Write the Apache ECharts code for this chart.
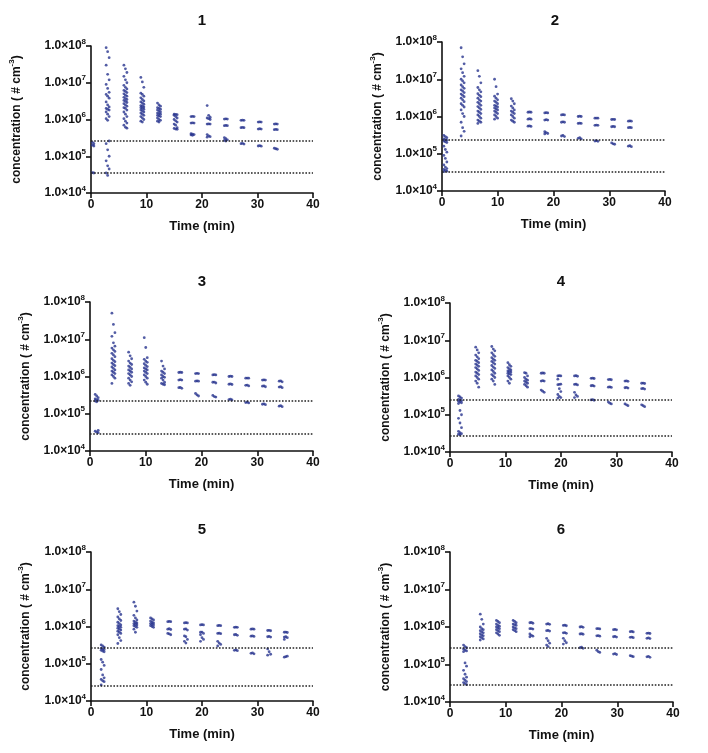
<!DOCTYPE html>
<html><head><meta charset="utf-8">
<script src="https://cdn.jsdelivr.net/npm/echarts@6/dist/echarts.min.js"></script>
<style>html,body{margin:0;padding:0;background:#fff}#c{width:708px;height:753px}</style>
</head><body><div id="c"></div>
<script>
// ---------- DATA ----------
const TITLES = ['1','2','3','4','5','6'];
const X_TICKS = [0, 10, 20, 30, 40];
const Y_TICKS = [1e4, 1e5, 1e6, 1e7, 1e8];

const P1_T = [0.25, 3.0, 6.2, 9.25, 12.25, 15.25, 18.3, 21.2, 24.3, 27.3, 30.4, 33.3];
const P1_V = [
  [2.7e5,2.4e5,2.2e5,2.1e5,2.0e5,1.9e5,3.7e4,3.6e4,3.5e4,3.4e4],
  [9e7,7e7,4.8e7,3e7,1.7e7,1.2e7,9e6,7e6,5.5e6,4.8e6,4.3e6,3.8e6,3e6,2.5e6,2.2e6,2e6,1.9e6,1.8e6,1.6e6,1.4e6,1.2e6,1.05e6,9.5e5,2.6e5,2.2e5,1.5e5,1e5,7.5e4,5.5e4,4.5e4,3.5e4,3e4],
  [3e7,2.4e7,1.9e7,1.5e7,1.2e7,1e7,8.5e6,7.5e6,6.8e6,6.2e6,5.8e6,5.4e6,5e6,4.6e6,4.3e6,4e6,3.7e6,3.5e6,3.3e6,3.1e6,2.9e6,2.7e6,2.5e6,2.3e6,2.1e6,2e6,1.8e6,1.6e6,1.4e6,1.2e6,1.05e6,9e5,8e5,7e5,6.2e5,5.8e5],
  [1.4e7,1.05e7,7.5e6,5.2e6,4.8e6,4.3e6,3.9e6,3.5e6,3.2e6,3e6,2.8e6,2.6e6,2.4e6,2.3e6,2.2e6,2.1e6,2e6,1.9e6,1.8e6,1.7e6,1.6e6,1.5e6,1.4e6,1.3e6,1.2e6,1.1e6,1e6,9e5,8.5e5],
  [2.8e6,2.5e6,2.3e6,2.1e6,2e6,1.9e6,1.8e6,1.7e6,1.6e6,1.5e6,1.45e6,1.4e6,1.3e6,1.25e6,1.2e6,1.1e6,1e6,9.5e5,9e5,8.5e5],
  [1.4e6,1.38e6,1.35e6,1.3e6,1.2e6,1.1e6,1e6,9.2e5,8.5e5,7.5e5,7e5,6e5,5.7e5,5.5e5,5.4e5],
  [1.2e6,1.21e6,1.2e6,8e5,8.1e5,8e5,4.1e5,4e5,3.9e5,3.8e5,3.7e5],
  [2.4e6,1.3e6,1.15e6,1.1e6,1.05e6,1e6,7.5e5,7.6e5,7.5e5,3.9e5,3.6e5,3.4e5,3.3e5],
  [1.03e6,1.04e6,1.03e6,6.8e5,6.9e5,6.8e5,3.2e5,3e5,2.8e5,2.7e5,2.6e5],
  [9.5e5,9.6e5,9.5e5,6e5,6.1e5,6e5,2.2e5,2.25e5,2.15e5],
  [8.5e5,8.6e5,8.5e5,5.5e5,5.6e5,5.5e5,1.9e5,1.95e5,1.88e5],
  [7.5e5,7.6e5,7.5e5,5.3e5,5.4e5,5.3e5,1.65e5,1.6e5,1.55e5]
];
const P1_LIMITS = [2.6e5, 3.5e4];

const P2_T = [0.6, 3.7, 6.7, 9.7, 12.7, 15.7, 18.7, 21.7, 24.7, 27.7, 30.7, 33.7];
const P2_V = [
  [3.1e5,2.9e5,2.7e5,2.5e5,2.4e5,2.3e5,2.2e5,2.1e5,2e5,1.6e5,1.3e5,1.1e5,9e4,7.5e4,6e4,5e4,4.4e4,4e4,3.8e4,3.6e4,3.4e4,3.3e4],
  [7e7,4e7,2.6e7,1.9e7,1.5e7,1.2e7,1e7,9e6,8e6,7e6,6.3e6,5.7e6,5.2e6,4.8e6,4.4e6,4e6,3.7e6,3.4e6,3.1e6,2.8e6,2.5e6,2.2e6,2e6,1.8e6,1.5e6,1.2e6,1e6,7e5,5e5,4e5,3e5],
  [1.7e7,1.2e7,8e6,6e6,5.2e6,4.6e6,4.1e6,3.7e6,3.4e6,3.1e6,2.8e6,2.6e6,2.4e6,2.2e6,2e6,1.85e6,1.7e6,1.55e6,1.4e6,1.3e6,1.2e6,1.1e6,1e6,9e5,8e5,7.5e5,7e5,6.5e5],
  [1e7,6.3e6,4e6,3.5e6,3.1e6,2.8e6,2.6e6,2.4e6,2.2e6,2e6,1.9e6,1.8e6,1.7e6,1.6e6,1.5e6,1.4e6,1.3e6,1.2e6,1.1e6,1e6,9e5,8.5e5],
  [3e6,2.6e6,2.2e6,1.9e6,1.7e6,1.5e6,1.4e6,1.3e6,1.2e6,1.1e6,1e6,9e5,8e5,7.5e5,7e5],
  [1.3e6,1.32e6,1.3e6,8.5e5,8.7e5,8.5e5,5.5e5,5.6e5,5.4e5],
  [1.25e6,1.27e6,1.25e6,8e5,8.2e5,8e5,3.9e5,3.7e5,3.5e5,3.4e5],
  [1.1e6,1.12e6,1.1e6,7e5,7.2e5,7e5,3e5,3.1e5,2.9e5],
  [1e6,1.02e6,1e6,6.5e5,6.6e5,6.5e5,2.6e5,2.7e5,2.5e5],
  [9e5,9.1e5,9e5,5.8e5,5.9e5,5.8e5,2.2e5,2.25e5,2.15e5],
  [8.3e5,8.4e5,8.3e5,5.3e5,5.4e5,5.3e5,1.95e5,1.85e5,1.8e5],
  [7.5e5,7.6e5,7.5e5,5e5,5.1e5,5e5,1.6e5,1.65e5,1.55e5]
];
const P2_LIMITS = [2.4e5, 3.2e4];

const P3_T = [1.2, 4.2, 7.2, 10.0, 13.1, 16.2, 19.2, 22.3, 25.2, 28.2, 31.2, 34.2];
const P3_V = [
  [3.3e5,3e5,2.7e5,2.5e5,2.4e5,2.3e5,2.2e5,2.1e5,3.6e4,3.4e4,3.2e4,3.1e4],
  [5e7,2.5e7,1.5e7,1.2e7,8e6,6.5e6,5.8e6,5.2e6,4.7e6,4.2e6,3.8e6,3.4e6,3e6,2.7e6,2.5e6,2.3e6,2.1e6,1.95e6,1.8e6,1.65e6,1.5e6,1.4e6,1.3e6,1.2e6,1.1e6,1e6,9e5,6.5e5],
  [4.5e6,3.6e6,3e6,2.6e6,2.3e6,2.1e6,1.9e6,1.75e6,1.6e6,1.5e6,1.4e6,1.3e6,1.2e6,1.1e6,1e6,9e5,8e5,7.2e5,6.5e5,5.8e5],
  [1.1e7,6e6,3.2e6,2.9e6,2.6e6,2.4e6,2.2e6,2e6,1.85e6,1.7e6,1.6e6,1.5e6,1.4e6,1.3e6,1.2e6,1.1e6,1e6,9e5,8e5,7e5,6.2e5],
  [2.6e6,1.9e6,1.6e6,1.4e6,1.3e6,1.2e6,1.1e6,1e6,9.5e5,9e5,8e5,7e5,6.5e5,6.2e5,6e5],
  [1.28e6,1.3e6,1.28e6,8e5,8.2e5,8e5,5e5,5.1e5,4.8e5],
  [1.2e6,1.22e6,1.2e6,7.5e5,7.6e5,7.5e5,3.5e5,3.2e5,3e5],
  [1.1e6,1.12e6,1.1e6,7e5,7.1e5,6.7e5,3.1e5,2.9e5,2.8e5],
  [1e6,1.02e6,1e6,6.2e5,6.3e5,6.1e5,2.4e5,2.45e5,2.35e5],
  [9e5,9.1e5,9e5,5.8e5,5.9e5,5.6e5,2e5,2.05e5,1.95e5],
  [8e5,8.1e5,8e5,5.5e5,5.6e5,5.3e5,1.8e5,1.85e5,1.75e5],
  [7.5e5,7.6e5,7.2e5,5.2e5,5.3e5,5e5,1.6e5,1.65e5,1.55e5]
];
const P3_LIMITS = [2.25e5, 2.95e4];

const P4_T = [1.8, 4.9, 7.8, 10.7, 13.7, 16.7, 19.7, 22.7, 25.7, 28.8, 31.8, 34.8];
const P4_V = [
  [3.2e5,3e5,2.8e5,2.6e5,2.5e5,2.4e5,2.3e5,2.2e5,2.1e5,2e5,1.3e5,1e5,8e4,6e4,4.5e4,3.6e4,3.3e4,3.1e4,3e4,2.9e4],
  [6.5e6,5.5e6,4.6e6,4e6,3.6e6,3.2e6,2.9e6,2.7e6,2.5e6,2.3e6,2.15e6,2e6,1.85e6,1.7e6,1.55e6,1.4e6,1.3e6,1.2e6,1.1e6,1e6,9e5,8e5,7e5,5.5e5],
  [6.8e6,5.8e6,5.2e6,4.6e6,4.1e6,3.7e6,3.4e6,3.1e6,2.9e6,2.7e6,2.5e6,2.3e6,2.1e6,1.9e6,1.75e6,1.6e6,1.45e6,1.3e6,1.2e6,1.1e6,1e6,9e5,8e5,6.5e5],
  [2.5e6,2.2e6,2e6,1.85e6,1.7e6,1.6e6,1.5e6,1.45e6,1.4e6,1.3e6,1.25e6,1.2e6,1.1e6,1e6,9e5,8e5,7e5],
  [1.35e6,1.3e6,1.1e6,1e6,9e5,8.5e5,8e5,7.5e5,7e5,6.5e5,6e5,5.5e5],
  [1.3e6,1.32e6,1.3e6,8e5,8.2e5,8e5,4.6e5,4.3e5,4e5],
  [1.1e6,1.12e6,1.1e6,9e5,6.5e5,6.6e5,6.4e5,5e5,4.2e5,3.5e5,3.1e5,2.9e5,2.8e5],
  [1.1e6,1.12e6,1.08e6,6.5e5,6.6e5,6.3e5,4e5,3.4e5,3.1e5,2.9e5],
  [9.5e5,9.6e5,9.4e5,6e5,6.1e5,5.9e5,2.5e5,2.55e5,2.45e5],
  [8.8e5,8.9e5,8.7e5,5.5e5,5.6e5,5.4e5,2.2e5,2.05e5,1.95e5],
  [8e5,8.1e5,7.9e5,5.3e5,5.4e5,5.2e5,1.95e5,1.85e5,1.75e5],
  [7e5,7.1e5,6.9e5,5e5,5.1e5,4.9e5,1.85e5,1.75e5,1.65e5]
];
const P4_LIMITS = [2.5e5, 2.8e4];

const P5_T = [2.1, 5.1, 8.0, 11.0, 14.1, 17.1, 20.0, 23.1, 26.1, 29.1, 32.1, 35.1];
const P5_V = [
  [3.2e5,3e5,2.8e5,2.6e5,2.5e5,2.4e5,2.3e5,2.2e5,2.1e5,1.3e5,1.1e5,9e4,7e4,5e4,4.2e4,3.8e4,3.5e4,3.3e4,2.7e4],
  [3e6,2.5e6,2.1e6,1.8e6,1.6e6,1.45e6,1.3e6,1.2e6,1.1e6,1.05e6,1e6,9.5e5,9e5,8.5e5,8e5,7.5e5,7e5,6.5e5,6e5,5e5,4.2e5,3.5e5],
  [4.5e6,3.5e6,2.6e6,2e6,1.7e6,1.5e6,1.4e6,1.3e6,1.25e6,1.2e6,1.15e6,1.1e6,1.05e6,1e6,9.5e5,8.5e5,7e5],
  [1.7e6,1.6e6,1.5e6,1.4e6,1.3e6,1.25e6,1.2e6,1.15e6,1.1e6,1.05e6,1e6,9.5e5],
  [1.35e6,1.37e6,1.35e6,8.5e5,8.7e5,8.3e5,6.5e5,6.3e5,6e5],
  [1.25e6,1.27e6,1.25e6,8.5e5,8.6e5,8e5,5.6e5,5.3e5,4.5e5,4e5,3.6e5],
  [1.1e6,1.12e6,1.1e6,7e5,7.1e5,6.5e5,6e5,5e5,4.5e5,4e5],
  [1.05e6,1.07e6,1.05e6,6.5e5,6.6e5,6.4e5,4e5,3.6e5,3.3e5,3e5],
  [9.5e5,9.6e5,9.5e5,6e5,6.1e5,5.8e5,2.3e5,2.35e5,2.25e5],
  [8.5e5,8.6e5,8.5e5,5.5e5,5.6e5,5.4e5,1.9e5,1.95e5,1.85e5],
  [7.8e5,7.9e5,7.7e5,5.3e5,5.4e5,5.2e5,2.5e5,2.1e5,1.8e5,1.7e5],
  [7e5,7.1e5,6.9e5,5.2e5,5.3e5,5e5,4.5e5,1.55e5,1.6e5,1.5e5]
];
const P5_LIMITS = [2.7e5, 2.6e4];

const P6_T = [2.7, 5.7, 8.6, 11.6, 14.6, 17.6, 20.6, 23.6, 26.6, 29.6, 32.6, 35.6];
const P6_V = [
  [3.3e5,3e5,2.8e5,2.6e5,2.4e5,2.3e5,2.2e5,1.1e5,9e4,7e4,5.5e4,4.6e4,4.2e4,3.8e4,3.5e4,3.3e4,3.1e4,2.9e4],
  [2.2e6,1.6e6,1.2e6,1e6,9e5,8.5e5,8e5,7.5e5,7e5,6.6e5,6.2e5,5.8e5,5.5e5,5.2e5,4.8e5,4.5e5],
  [1.5e6,1.4e6,1.3e6,1.2e6,1.1e6,1.05e6,1e6,9.5e5,9e5,8.5e5,8e5,7.5e5,7e5,6.5e5,6e5],
  [1.5e6,1.4e6,1.3e6,1.2e6,1.15e6,1.1e6,1e6,9.5e5,9e5,8.5e5,8e5,7.5e5],
  [1.3e6,1.32e6,1.26e6,9e5,9.1e5,8.8e5,6.5e5,6e5,5.7e5,5.5e5],
  [1.2e6,1.22e6,1.18e6,8e5,8.1e5,7.8e5,5e5,4.3e5,3.7e5,3.3e5,3e5],
  [1.1e6,1.12e6,1.08e6,7e5,7.1e5,6.8e5,5e5,4.3e5,3.8e5,3.5e5],
  [1e6,1.02e6,9.8e5,6.5e5,6.6e5,6.4e5,2.8e5,2.9e5,2.7e5],
  [9e5,9.1e5,8.9e5,5.8e5,5.9e5,5.7e5,2.4e5,2.2e5,2.1e5],
  [8.5e5,8.6e5,8.4e5,5.5e5,5.6e5,5.4e5,1.9e5,1.95e5,1.85e5],
  [7.5e5,7.6e5,7.4e5,5.3e5,5.4e5,5.2e5,1.72e5,1.67e5,1.62e5],
  [6.8e5,6.9e5,6.7e5,5e5,5.1e5,4.9e5,1.6e5,1.65e5,1.55e5]
];
const P6_LIMITS = [2.8e5, 2.8e4];

const PANELS = [
  {t: P1_T, v: P1_V, lim: P1_LIMITS},
  {t: P2_T, v: P2_V, lim: P2_LIMITS},
  {t: P3_T, v: P3_V, lim: P3_LIMITS},
  {t: P4_T, v: P4_V, lim: P4_LIMITS},
  {t: P5_T, v: P5_V, lim: P5_LIMITS},
  {t: P6_T, v: P6_V, lim: P6_LIMITS}
];

// ---------- LAYOUT / STYLE ----------
const GRIDS = [
  {left: 91,  top: 46,  width: 222, height: 147, yGap: 66},
  {left: 442, top: 42,  width: 223, height: 149, yGap: 56},
  {left: 90,  top: 302, width: 223, height: 149, yGap: 56},
  {left: 450, top: 303, width: 222, height: 149, yGap: 56},
  {left: 91,  top: 552, width: 222, height: 149, yGap: 57},
  {left: 450, top: 552, width: 223, height: 150, yGap: 56}
];
const TITLE_POS = [[202,21],[555,21],[202,282],[561,282],[202,530],[561,530]];
const FONT = '"Liberation Sans", Arial, sans-serif';
const DOT = '#28358e';
const JIT = [-0.27, 0, 0.27]; // horizontal spread of dots inside a column (layout only)

const chart = echarts.init(document.getElementById('c'), null, {renderer: 'canvas'});
const grid = [], xAxis = [], yAxis = [], series = [], graphic = [];

PANELS.forEach((p, k) => {
  const g = GRIDS[k];
  grid.push({left: g.left, top: g.top, width: g.width, height: g.height, containLabel: false});
  xAxis.push({
    type: 'value', gridIndex: k, min: X_TICKS[0], max: X_TICKS[X_TICKS.length-1], interval: 10,
    name: 'Time (min)', nameLocation: 'middle', nameGap: 27,
    nameTextStyle: {fontFamily: FONT, fontWeight: 'bold', fontSize: 13, color: '#111'},
    axisLine: {lineStyle: {color: '#111', width: 1.6}},
    axisTick: {show: true, length: 5, lineStyle: {color: '#111', width: 1.6}},
    axisLabel: {fontFamily: FONT, fontWeight: 'bold', fontSize: 12, color: '#111', margin: 6},
    splitLine: {show: false}
  });
  yAxis.push({
    type: 'log', logBase: 10, gridIndex: k, min: Y_TICKS[0], max: Y_TICKS[Y_TICKS.length-1],
    name: 'concentration ( # cm{s|-3})', nameLocation: 'middle', nameGap: g.yGap,
    nameTextStyle: {fontFamily: FONT, fontWeight: 'bold', fontSize: 12, color: '#111',
      rich: {s: {fontFamily: FONT, fontWeight: 'bold', fontSize: 8, color: '#111', padding: [0,0,9,0]}}},
    axisLine: {show: true, lineStyle: {color: '#111', width: 1.6}},
    axisTick: {show: true, length: 5, lineStyle: {color: '#111', width: 1.6}},
    minorTick: {show: false},
    splitLine: {show: false},
    axisLabel: {
      margin: 5,
      formatter: v => '{b|1.0×10}{s|' + Math.round(Math.log10(v)) + '}',
      rich: {
        b: {fontFamily: FONT, fontWeight: 'bold', fontSize: 12, color: '#111'},
        s: {fontFamily: FONT, fontWeight: 'bold', fontSize: 8, color: '#111', padding: [0,0,9,0]}
      }
    }
  });
  const data = [];
  p.t.forEach((t, i) => {
    p.v[i].forEach((val, j) => data.push([t + JIT[j % JIT.length], val]));
  });
  series.push({
    type: 'scatter', xAxisIndex: k, yAxisIndex: k, data: data,
    symbol: 'circle', symbolSize: 2.8, itemStyle: {color: DOT}, silent: true, animation: false,
    markLine: {
      silent: true, symbol: 'none', animation: false,
      label: {show: false},
      lineStyle: {type: 'dotted', color: '#222', width: 1.6},
      data: p.lim.map(y => ({yAxis: y}))
    }
  });
  graphic.push({
    type: 'text', x: TITLE_POS[k][0], y: TITLE_POS[k][1],
    style: {text: TITLES[k], fontFamily: FONT, fontWeight: 'bold', fontSize: 15, fill: '#111',
      textAlign: 'center', textVerticalAlign: 'middle'}
  });
});

chart.setOption({animation: false, backgroundColor: '#fff', grid, xAxis, yAxis, series, graphic});
</script>
</body></html>
